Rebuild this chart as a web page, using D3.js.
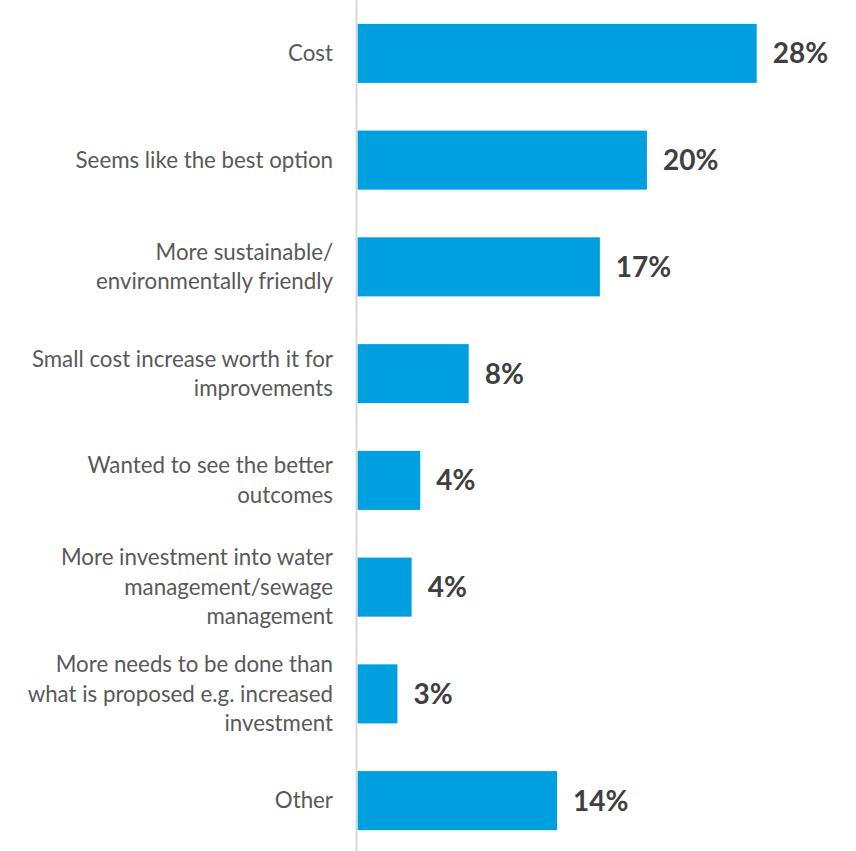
<!DOCTYPE html>
<html>
<head>
<meta charset="utf-8">
<script src="https://cdn.jsdelivr.net/npm/d3@7"></script>
<style>
  html, body { margin: 0; padding: 0; background: #fff; }
  svg { display: block; }
</style>
</head>
<body>
<svg id="chart" width="856" height="851"></svg>
<script>
const categories = [
  "Cost",
  "Seems like the best option",
  "More sustainable/\nenvironmentally friendly",
  "Small cost increase worth it for\nimprovements",
  "Wanted to see the better\noutcomes",
  "More investment into water\nmanagement/sewage\nmanagement",
  "More needs to be done than\nwhat is proposed e.g. increased\ninvestment",
  "Other"
];
const values = [28, 20.3, 17, 7.8, 4.4, 3.8, 2.8, 14];
const valueLabels = ["28%", "20%", "17%", "8%", "4%", "4%", "3%", "14%"];

const svg = d3.select("#chart");
const x0 = 357.5;
const x = d3.scaleLinear().domain([0, 28]).range([x0, 756.7]);
const y = d3.scaleBand().domain(categories).range([0, 854]).paddingInner(0.447).paddingOuter(0.2235);

svg.append("g").selectAll("rect")
  .data(categories)
  .join("rect")
  .attr("x", x(0))
  .attr("y", d => y(d))
  .attr("width", (d, i) => x(values[i]) - x(0))
  .attr("height", y.bandwidth())
  .attr("fill", "#009FDF");

svg.append("line")
  .attr("x1", 356.5).attr("x2", 356.5)
  .attr("y1", 0).attr("y2", 851)
  .attr("stroke", "#d9d9d9").attr("stroke-width", 2);

svg.append("g").selectAll("text")
  .data(categories)
  .join("text")
  .attr("x", (d, i) => x(values[i]) + 16)
  .attr("y", d => y(d) + y.bandwidth() / 2)
  .attr("dy", "0.36em")
  .attr("font-family", "Lato, sans-serif")
  .attr("font-weight", "bold")
  .attr("font-size", 28)
  .attr("fill", "#404040")
  .text((d, i) => valueLabels[i]);

const lineH = 29.5;
const cat = svg.append("g").selectAll("text")
  .data(categories)
  .join("text")
  .attr("text-anchor", "end")
  .attr("font-family", "Lato, sans-serif")
  .attr("font-size", 22.3)
  .attr("fill", "#595959")
  .attr("transform", d => `translate(333,${y(d) + y.bandwidth() / 2})`);

cat.each(function(d) {
  const lines = d.split("\n");
  const n = lines.length;
  d3.select(this).selectAll("tspan")
    .data(lines)
    .join("tspan")
    .attr("x", 0)
    .attr("y", (l, j) => (j - (n - 1) / 2) * lineH)
    .attr("dy", "0.35em")
    .text(l => l);
});
</script>
</body>
</html>
